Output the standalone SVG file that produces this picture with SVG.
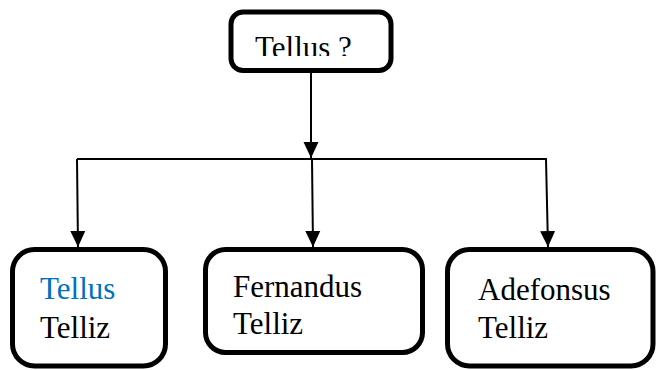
<svg xmlns="http://www.w3.org/2000/svg" width="657" height="370" viewBox="0 0 657 370">
<style>
.box{fill:#fff;stroke:#000;stroke-width:5}
.t{font-family:"Liberation Serif","Times New Roman",serif;font-size:31px;fill:#000}
.blue{fill:#0070C0}
.ln{stroke:#000;stroke-width:2;fill:none}
</style>
<defs>
<marker id="ah" markerUnits="userSpaceOnUse" markerWidth="16" markerHeight="16" viewBox="0 0 16 16" refX="16" refY="8" orient="auto">
<path d="M0,0.5 L16,8 L0,15.5 Z" fill="#000"/>
</marker>
<clipPath id="topclip"><rect x="0" y="0" width="657" height="56"/></clipPath>
</defs>
<g id="connectors">
<line class="ln" x1="311" y1="72" x2="311" y2="158" marker-end="url(#ah)"/>
<line class="ln" x1="77" y1="159" x2="547" y2="159"/>
<line class="ln" x1="77" y1="159" x2="78" y2="247" marker-end="url(#ah)"/>
<line class="ln" x1="312" y1="159" x2="313" y2="247" marker-end="url(#ah)"/>
<line class="ln" x1="546" y1="159" x2="548" y2="247" marker-end="url(#ah)"/>
</g>
<g id="node-top">
<rect class="box" x="231" y="12" width="160" height="58.5" rx="12" stroke-width="4.5"/>
<text class="t" x="255" y="58" font-size="32" clip-path="url(#topclip)">Tellus ?</text>
</g>
<g id="node-tellus">
<rect class="box" x="12.5" y="249.5" width="153" height="116.5" rx="22"/>
<text class="t blue" x="40" y="299">Tellus</text>
<text class="t" x="40" y="338">Telliz</text>
</g>
<g id="node-fernandus">
<rect class="box" x="205.5" y="249.5" width="217" height="103" rx="20"/>
<text class="t" x="233" y="297">Fernandus</text>
<text class="t" x="233" y="334">Telliz</text>
</g>
<g id="node-adefonsus">
<rect class="box" x="447.5" y="249.5" width="205.5" height="116.5" rx="22"/>
<text class="t" x="478" y="300">Adefonsus</text>
<text class="t" x="478" y="338">Telliz</text>
</g>
</svg>
